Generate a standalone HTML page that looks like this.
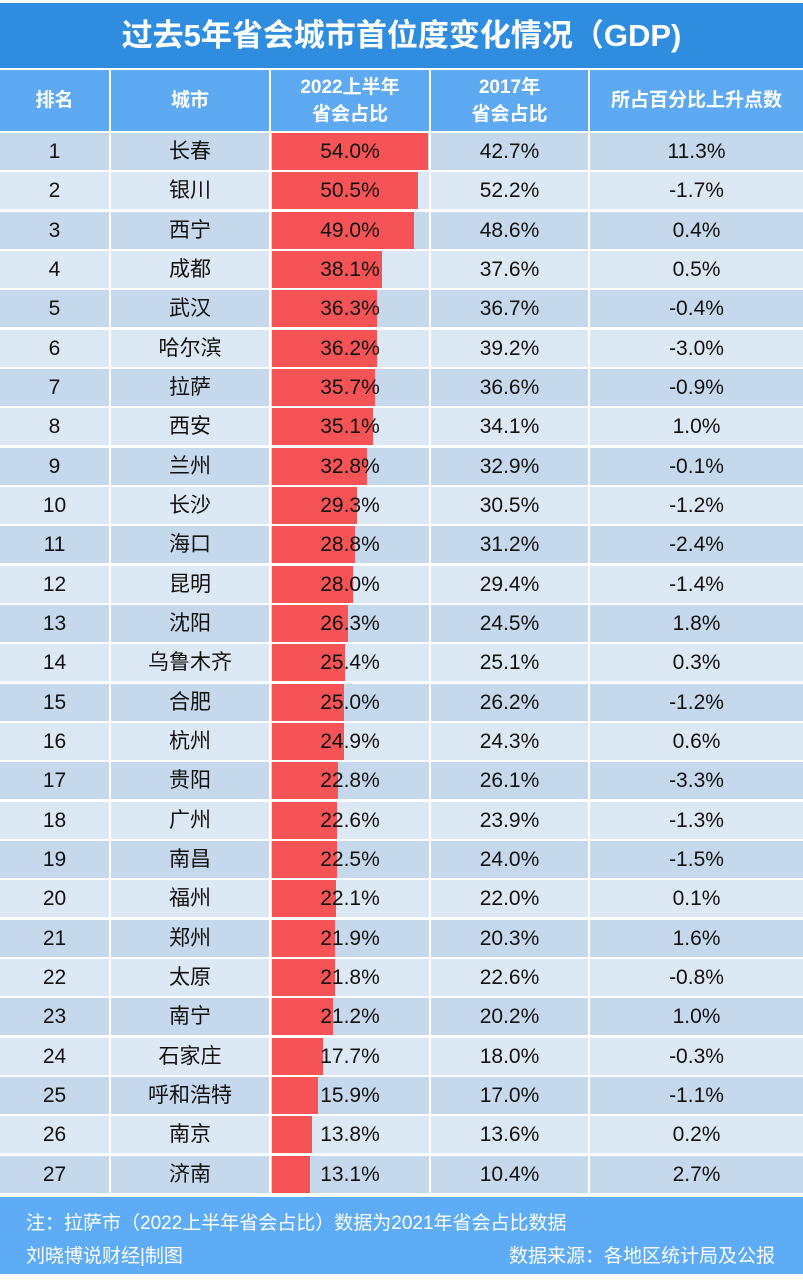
<!DOCTYPE html>
<html><head><meta charset="utf-8"><style>
*{margin:0;padding:0;box-sizing:border-box}
body{width:803px;height:1280px;background:#fff;font-family:"Liberation Sans","Noto Sans CJK SC",sans-serif;position:relative;overflow:hidden}
.title{position:absolute;left:0;top:3px;width:803px;height:65px;background:#2f8de0;color:#fff;font-size:31px;font-weight:bold;text-align:center;line-height:65px}
.hdr{position:absolute;top:70px;height:61px;background:#5eaaf2;color:#fff;font-weight:bold;font-size:19px;display:flex;align-items:center;justify-content:center;text-align:center;line-height:27px}
.row{position:absolute;left:0;width:803px;height:37px;font-size:21px;color:#111}
.c{position:absolute;top:0;height:37px;line-height:38px;text-align:center}
.bar{position:absolute;left:272px;top:0;height:37px;background:#f55356}
.foot{position:absolute;left:0;top:1197px;width:803px;height:77px;background:#5eacf5;color:#fff;font-size:19px}
</style></head><body>
<div class="title">过去5年省会城市首位度变化情况（GDP)</div>
<div class="hdr" style="left:0;width:109px">排名</div>
<div class="hdr" style="left:111px;width:158px">城市</div>
<div class="hdr" style="left:271px;width:158px">2022上半年<br>省会占比</div>
<div class="hdr" style="left:431px;width:157px">2017年<br>省会占比</div>
<div class="hdr" style="left:590px;width:213px">所占百分比上升点数</div>
<div id="rows"></div>
<div class="foot"><div style="position:absolute;left:26px;top:11px">注：拉萨市（2022上半年省会占比）数据为2021年省会占比数据</div><div style="position:absolute;left:26px;top:44px">刘晓博说财经|制图</div><div style="position:absolute;right:28px;top:44px">数据来源：各地区统计局及公报</div></div>
<script>
var d=[["长春",54.0,"42.7%","11.3%"],["银川",50.5,"52.2%","-1.7%"],["西宁",49.0,"48.6%","0.4%"],["成都",38.1,"37.6%","0.5%"],["武汉",36.3,"36.7%","-0.4%"],["哈尔滨",36.2,"39.2%","-3.0%"],["拉萨",35.7,"36.6%","-0.9%"],["西安",35.1,"34.1%","1.0%"],["兰州",32.8,"32.9%","-0.1%"],["长沙",29.3,"30.5%","-1.2%"],["海口",28.8,"31.2%","-2.4%"],["昆明",28.0,"29.4%","-1.4%"],["沈阳",26.3,"24.5%","1.8%"],["乌鲁木齐",25.4,"25.1%","0.3%"],["合肥",25.0,"26.2%","-1.2%"],["杭州",24.9,"24.3%","0.6%"],["贵阳",22.8,"26.1%","-3.3%"],["广州",22.6,"23.9%","-1.3%"],["南昌",22.5,"24.0%","-1.5%"],["福州",22.1,"22.0%","0.1%"],["郑州",21.9,"20.3%","1.6%"],["太原",21.8,"22.6%","-0.8%"],["南宁",21.2,"20.2%","1.0%"],["石家庄",17.7,"18.0%","-0.3%"],["呼和浩特",15.9,"17.0%","-1.1%"],["南京",13.8,"13.6%","0.2%"],["济南",13.1,"10.4%","2.7%"]];
var h="";
d.forEach(function(r,i){var y=133+i*39.33;var bg=i%2==0?"#c6d9ec":"#dce8f4";
h+='<div class="row" style="top:'+y+'px">'+
'<div class="c" style="left:0;width:109px;background:'+bg+'">'+(i+1)+'</div>'+
'<div class="c" style="left:111px;width:158px;background:'+bg+'">'+r[0]+'</div>'+
'<div class="c" style="left:271px;width:158px;background:'+bg+'"></div>'+
'<div class="bar" style="width:'+(r[1]/54*156).toFixed(1)+'px"></div>'+
'<div class="c" style="left:271px;width:158px">'+r[1].toFixed(1)+'%</div>'+
'<div class="c" style="left:431px;width:157px;background:'+bg+'">'+r[2]+'</div>'+
'<div class="c" style="left:590px;width:213px;background:'+bg+'">'+r[3]+'</div></div>';});
document.getElementById("rows").innerHTML=h;
</script>
</body></html>
